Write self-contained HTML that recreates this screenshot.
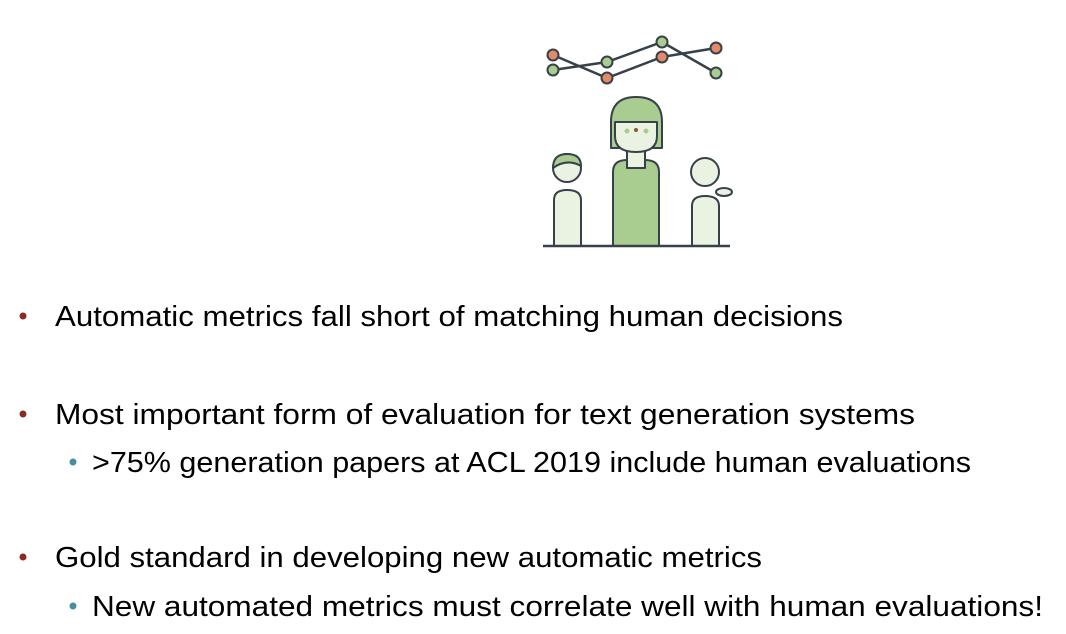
<!DOCTYPE html>
<html><head><meta charset="utf-8"><style>
html,body{margin:0;padding:0;background:#fff;width:1066px;height:634px;overflow:hidden}
svg{display:block}
text{font-family:"Liberation Sans",sans-serif;font-size:28.5px;fill:#000}
</style></head><body>
<svg width="1066" height="634" viewBox="0 0 1066 634">
<g stroke="#37414a" stroke-width="2.5" fill="none">
<polyline points="553,55 607,78 662,57 716,48"/>
<polyline points="553,70 607,62 662,42 716,73"/>
</g>
<g stroke="#37414a" stroke-width="2">
<circle cx="553" cy="55" r="5.5" fill="#e48a67"/><circle cx="607" cy="78" r="5.5" fill="#e48a67"/>
<circle cx="662" cy="57" r="5.5" fill="#e48a67"/><circle cx="716" cy="48" r="5.5" fill="#e48a67"/>
<circle cx="553" cy="70" r="5.5" fill="#a9cd90"/><circle cx="607" cy="62" r="5.5" fill="#a9cd90"/>
<circle cx="662" cy="42" r="5.5" fill="#a9cd90"/><circle cx="716" cy="73" r="5.5" fill="#a9cd90"/>
</g>
<g stroke="#37414a" stroke-width="2" stroke-linejoin="round">
<path d="M613,246 V172 Q613,160 627,160 H645 Q659,160 659,172 V246 Z" fill="#a9cd90"/>
<rect x="627" y="148" width="18" height="20" fill="#eaf3e1"/>
<path d="M611,122 Q611,97 636,97 Q662,97 662,122 V148 H611 Z" fill="#a9cd90"/>
<path d="M615,122 H657 V136 Q657,152 636,152 Q615,152 615,136 Z" fill="#eaf3e1"/>
<path d="M554,246 V200 Q554,190 567,190 Q581,190 581,200 V246 Z" fill="#eaf3e1"/>
<circle cx="567" cy="168" r="14" fill="#eaf3e1"/>
<path d="M553,168 Q553,154 567,154 Q581,154 581,166 Q567,158 553,168 Z" fill="#a9cd90"/>
<path d="M692,246 V206 Q692,196 705,196 Q719,196 719,206 V246 Z" fill="#eaf3e1"/>
<ellipse cx="724" cy="192" rx="8" ry="4" fill="#eaf3e1"/>
<circle cx="705" cy="172" r="14" fill="#eaf3e1"/>
</g>
<circle cx="627" cy="131" r="2.5" fill="#a9cd90"/><circle cx="646" cy="131" r="2.5" fill="#a9cd90"/>
<circle cx="636" cy="130" r="2" fill="#8a5a2a"/>
<line x1="543" y1="246" x2="730" y2="246" stroke="#37414a" stroke-width="2.5"/>
<g fill="#8b2a22"><circle cx="23" cy="316" r="3.5"/><circle cx="23" cy="414" r="3.5"/><circle cx="23" cy="557" r="3.5"/></g>
<g fill="#4a8ba0"><circle cx="73" cy="462" r="3.5"/><circle cx="73" cy="606" r="3.5"/></g>
<text x="55" y="326" textLength="788" lengthAdjust="spacingAndGlyphs">Automatic metrics fall short of matching human decisions</text>
<text x="55" y="424" textLength="860" lengthAdjust="spacingAndGlyphs">Most important form of evaluation for text generation systems</text>
<text x="92" y="472" textLength="879" lengthAdjust="spacingAndGlyphs">&gt;75% generation papers at ACL 2019 include human evaluations</text>
<text x="55" y="567" textLength="707" lengthAdjust="spacingAndGlyphs">Gold standard in developing new automatic metrics</text>
<text x="92" y="616" textLength="951" lengthAdjust="spacingAndGlyphs">New automated metrics must correlate well with human evaluations!</text>
</svg>
</body></html>
